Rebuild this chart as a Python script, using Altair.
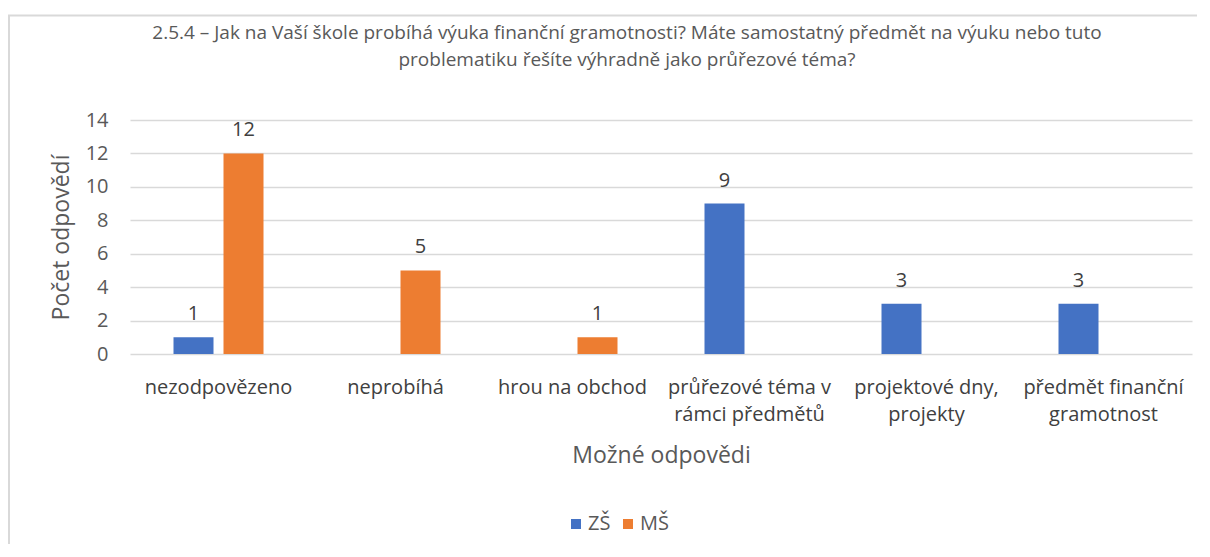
import json
import altair as alt
import pandas as pd

categories = ["nezodpovězeno", "neprobíhá", "hrou na obchod",
              "průřezové téma v rámci předmětů", "projektové dny, projekty",
              "předmět finanční gramotnost"]
label_lines = [["nezodpovězeno"], ["neprobíhá"], ["hrou na obchod"],
               ["průřezové téma v", "rámci předmětů"],
               ["projektové dny,", "projekty"],
               ["předmět finanční", "gramotnost"]]
series = ["ZŠ", "MŠ"]
zs_values = [1, 0, 0, 9, 3, 3]
ms_values = [12, 5, 1, 0, 0, 0]
colors = ["#4472C4", "#ED7D31"]
y_ticks = [0, 2, 4, 6, 8, 10, 12, 14]
title_lines = ["2.5.4 – Jak na Vaší škole probíhá výuka finanční gramotnosti? Máte samostatný předmět na výuku nebo tuto",
               "problematiku řešíte výhradně jako průřezové téma?"]
y_title = "Počet odpovědí"
x_title = "Možné odpovědi"

rows = []
for c, z, m in zip(categories, zs_values, ms_values):
    rows.append({"category": c, "series": series[0], "value": z})
    rows.append({"category": c, "series": series[1], "value": m})
df = pd.DataFrame(rows)

label_expr = ""
for c, lines in zip(categories, label_lines):
    label_expr += f"datum.value === {json.dumps(c, ensure_ascii=False)} ? {json.dumps(lines, ensure_ascii=False)} : "
label_expr += "datum.label"

FONT = "Open Sans"

x_enc = alt.X("category:N", sort=categories,
              scale=alt.Scale(paddingInner=0, paddingOuter=0),
              axis=alt.Axis(title=x_title, labelExpr=label_expr, labelAngle=0,
                            labelFontSize=20, labelColor="#404040", labelFont=FONT,
                            labelLineHeight=27, labelPadding=23, labelBaseline="top",
                            ticks=False, domain=False, grid=False,
                            titleFontSize=23, titleColor="#595959", titleFont=FONT,
                            titleFontWeight="normal", titlePadding=20))
xoff_enc = alt.XOffset("series:N", sort=series,
                       scale=alt.Scale(paddingInner=0.2, paddingOuter=0.87))
y_enc = alt.Y("value:Q",
              scale=alt.Scale(domain=[0, 14], nice=False),
              axis=alt.Axis(title=y_title, values=y_ticks, ticks=False, domain=False,
                            labelFontSize=20, labelColor="#595959", labelFont=FONT,
                            labelPadding=22, labelOverlap=False,
                            gridColor="#d9d9d9", gridWidth=1.5,
                            titleFontSize=23, titleColor="#595959", titleFont=FONT,
                            titleFontWeight="normal", titlePadding=12))

base = alt.Chart(df)

bars = base.mark_bar().encode(
    x=x_enc, xOffset=xoff_enc, y=y_enc,
    color=alt.Color("series:N", sort=series,
                    scale=alt.Scale(domain=series, range=colors),
                    legend=alt.Legend(title=None, orient="none", direction="horizontal",
                                      legendX=436, legendY=394,
                                      symbolType="square", symbolSize=100,
                                      symbolStrokeWidth=0,
                                      labelFontSize=20, labelFont=FONT,
                                      labelColor="#595959", columnPadding=7,
                                      labelOffset=2))
)

labels = base.transform_filter("datum.value > 0").mark_text(
    fontSize=20, font=FONT, color="#404040", baseline="alphabetic", dy=-17
).encode(
    x=x_enc, xOffset=xoff_enc, y=y_enc, text="value:Q"
)

border = alt.Chart(alt.Data(values=[{"a": 1}])).mark_rect(
    fill="transparent", stroke="#d9d9d9", strokeWidth=2
).encode(x=alt.value(-121), x2=alt.value(1200), y=alt.value(-104.5), y2=alt.value(700))

chart = alt.layer(border, bars, labels).properties(
    width=1062, height=234,
    title=alt.Title(text=title_lines, fontSize=19, font=FONT, color="#595959",
                    fontWeight="normal", lineHeight=27, anchor="middle",
                    dx=-34, offset=-55),
    autosize=alt.AutoSizeParams(type="none"),
    padding={"left": 122, "top": 112, "right": 5, "bottom": 190},
).configure_view(stroke=None)

chart.save("out.html", embed_options={"renderer": "svg", "actions": False})
